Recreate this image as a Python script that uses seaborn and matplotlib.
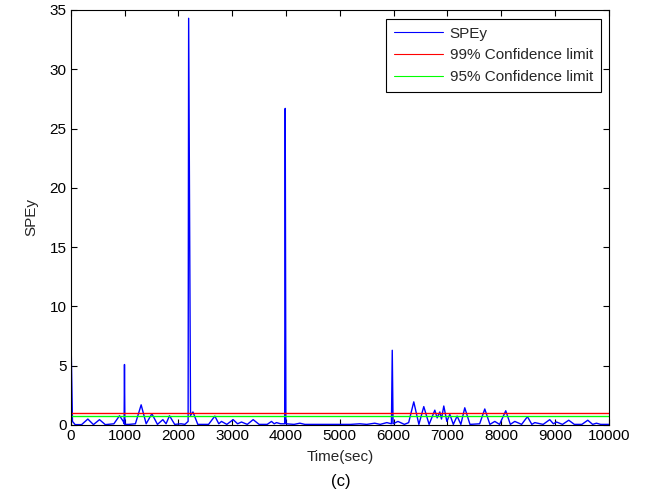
import matplotlib
matplotlib.use("Agg")
import matplotlib.pyplot as plt
import seaborn as sns
import pandas as pd
from matplotlib.lines import Line2D

# ---- data ----
time_sec = [0, 30, 80, 200, 316, 420, 533, 640, 800, 905, 975, 990, 997, 1005, 1080,
            1200, 1307, 1400, 1506, 1610, 1710, 1770, 1834, 1930, 2050, 2120, 2180, 2190,
            2225, 2270, 2360, 2560, 2677, 2750, 2800, 2900, 3017, 3100, 3172, 3280, 3389,
            3500, 3650, 3730, 3780, 3823, 3900, 3975, 3985, 3998, 4150, 4257, 4350, 5200,
            5372, 5500, 5650, 5750, 5874, 5960, 5975, 5990, 6081, 6200, 6280, 6375, 6470,
            6561, 6660, 6766, 6810, 6859, 6890, 6933, 6990, 7045, 7110, 7181, 7250, 7323,
            7420, 7600, 7695, 7790, 7881, 7970, 8085, 8170, 8253, 8380, 8488, 8570, 8625,
            8780, 8903, 8970, 9028, 9140, 9256, 9360, 9500, 9610, 9700, 9771, 9850, 10000]
spey = [8.1, 0.3, 0.03, 0.03, 0.5, 0.03, 0.45, 0.03, 0.1, 0.78, 0.3, 0.1, 5.1, 0.05, 0.05,
        0.1, 1.7, 0.1, 0.95, 0.05, 0.45, 0.1, 0.78, 0.05, 0.1, 0.05, 0.3, 34.3,
        0.8, 1.1, 0.05, 0.05, 0.75, 0.1, 0.3, 0.05, 0.45, 0.1, 0.25, 0.05, 0.45,
        0.05, 0.05, 0.3, 0.1, 0.2, 0.1, 0.1, 26.7, 0.1, 0.05, 0.15, 0.05, 0.05,
        0.1, 0.05, 0.15, 0.05, 0.2, 0.1, 6.3, 0.1, 0.3, 0.05, 0.2, 1.95, 0.05,
        1.55, 0.05, 1.25, 0.6, 1.1, 0.5, 1.6, 0.3, 0.9, 0.05, 0.75, 0.05, 1.45,
        0.05, 0.1, 1.35, 0.05, 0.3, 0.05, 1.2, 0.05, 0.3, 0.05, 0.7, 0.05, 0.2,
        0.05, 0.45, 0.1, 0.25, 0.05, 0.4, 0.05, 0.05, 0.4, 0.05, 0.15, 0.05, 0.05]
limit_99 = 0.99
limit_95 = 0.76
series_labels = ["SPEy", "99% Confidence limit", "95% Confidence limit"]
x_ticks = list(range(0, 10001, 1000))
y_ticks = list(range(0, 36, 5))

sns.set_style("ticks")
plt.rcParams["font.family"] = ["Liberation Sans", "DejaVu Sans"]
plt.rcParams["xtick.direction"] = "in"
plt.rcParams["ytick.direction"] = "in"

fig = plt.figure(figsize=(6.56, 4.90), dpi=100)
ax = fig.add_axes([0.108, 0.1327, 0.82, 0.8469])

df = pd.DataFrame({"Time": time_sec, "SPEy": spey})
sns.lineplot(data=df, x="Time", y="SPEy", ax=ax, color="#0000ff", linewidth=1.0,
             estimator=None, sort=False)
ax.axhline(limit_99, color="#ff0000", linewidth=1.0)
ax.axhline(limit_95, color="#00ff00", linewidth=1.0)

ax.set_xlim(0, 10000)
ax.set_ylim(0, 35)
ax.set_xticks(x_ticks)
ax.set_yticks(y_ticks)
ax.tick_params(axis="both", labelsize=11, length=4, width=0.8, top=True, right=True,
               colors="black", pad=3)
ax.set_xlabel("Time(sec)", fontsize=11, labelpad=5)
ax.set_ylabel("SPEy", fontsize=11, labelpad=8)
for s in ax.spines.values():
    s.set_visible(True)
    s.set_linewidth(0.8)
    s.set_color("black")

handles = [Line2D([], [], color="#0000ff", lw=0.8),
           Line2D([], [], color="#ff0000", lw=0.8),
           Line2D([], [], color="#00ff00", lw=0.8)]
leg = ax.legend(handles, series_labels, loc="upper right", fontsize=11, frameon=True,
                fancybox=False, edgecolor="black", framealpha=1, borderpad=0.5,
                handlelength=3.2, labelspacing=0.5, handletextpad=0.45,
                borderaxespad=0, bbox_to_anchor=(0.985, 0.978))
leg.get_frame().set_linewidth(0.8)

fig.text(0.52, 0.002, "(c)", fontsize=12, ha="center", va="bottom", color="black")

fig.savefig("out.png", dpi=100, facecolor="white")
